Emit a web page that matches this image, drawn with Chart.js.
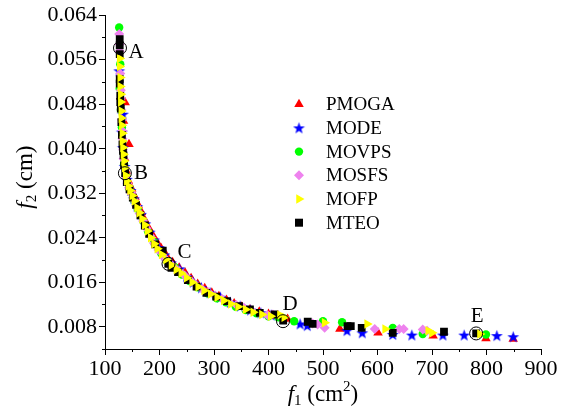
<!DOCTYPE html>
<html>
<head>
<meta charset="utf-8">
<script src="https://cdn.jsdelivr.net/npm/chart.js@4.4.0/dist/chart.umd.min.js"></script>
<style>
  html, body { margin: 0; padding: 0; background: #fff; }
  canvas { display: block; }
</style>
</head>
<body>
<canvas id="chart" width="562" height="409"></canvas>
<script>
// --- data: f1 (cm^2) and f2 (cm) per algorithm ---
const seriesNames = ["PMOGA", "MODE", "MOVPS", "MOSFS", "MOFP", "MTEO"];

const pmogaF1 = [137,134,144,136,139,143,149,155,161,167,173,180,187,195,203,212,224,236,247,258,270,283,296,309,323,337,351,366,383,400,417,435,531,601,702,799,849];
const pmogaF2 = [0.0483,0.0450,0.0408,0.0383,0.0360,0.0342,0.0328,0.0313,0.0299,0.0286,0.0272,0.0258,0.0246,0.0233,0.0221,0.0209,0.0196,0.0186,0.0177,0.0167,0.0157,0.0149,0.0141,0.0135,0.0128,0.0122,0.0116,0.0111,0.0107,0.0103,0.0100,0.0094,0.0076,0.0069,0.0064,0.0059,0.0058];

const modeF1 = [126,133,131,133,136,140,147,153,159,166,174,182,190,199,209,221,237,250,262,277,293,312,330,348,367,386,405,458,471,544,572,628,663,720,759,819,849];
const modeF2 = [0.0540,0.0462,0.0430,0.0402,0.0368,0.0345,0.0325,0.0310,0.0296,0.0282,0.0265,0.0250,0.0236,0.0222,0.0209,0.0195,0.0184,0.0170,0.0160,0.0150,0.0141,0.0133,0.0124,0.0117,0.0110,0.0105,0.0101,0.0085,0.0082,0.0073,0.0069,0.0066,0.0065,0.0065,0.0065,0.0064,0.0062];

const movpsF1 = [126,128,127,129,131,133,135,138,145,152,160,170,179,190,203,214,228,241,255,270,288,305,322,340,358,378,400,418,447,500,535,628,683,799];
const movpsF2 = [0.0618,0.0552,0.0508,0.0470,0.0438,0.0398,0.0372,0.0352,0.0328,0.0309,0.0292,0.0270,0.0251,0.0232,0.0212,0.0198,0.0187,0.0174,0.0162,0.0151,0.0140,0.0131,0.0124,0.0116,0.0110,0.0104,0.0099,0.0097,0.0090,0.0090,0.0088,0.0078,0.0067,0.0066];

const mosfsF1 = [126,127,127,128,129,129,130,131,132,132,133,134,136,138,141,144,148,153,158,164,170,176,183,190,198,207,216,226,236,246,256,266,278,290,302,315,328,341,355,369,385,398,408,481,490,503,595,640,648,683,691];
const mosfsF2 = [0.0606,0.0588,0.0575,0.0535,0.0505,0.0490,0.0470,0.0452,0.0432,0.0418,0.0398,0.0382,0.0366,0.0350,0.0338,0.0330,0.0320,0.0308,0.0296,0.0283,0.0270,0.0257,0.0243,0.0230,0.0218,0.0206,0.0197,0.0188,0.0180,0.0172,0.0164,0.0156,0.0148,0.0142,0.0136,0.0130,0.0124,0.0119,0.0114,0.0109,0.0104,0.0101,0.0102,0.0086,0.0084,0.0078,0.0076,0.0076,0.0076,0.0075,0.0073];

const mofpF1 = [127,127,128,128,129,129,130,130,131,132,132,133,134,135,136,138,140,143,146,150,154,159,163,168,173,178,184,190,196,204,212,222,231,240,250,260,271,282,294,306,318,331,344,358,372,388,404,421,429,503,581,614,693,700,788];
const mofpF2 = [0.0562,0.0548,0.0528,0.0512,0.0498,0.0484,0.0468,0.0455,0.0442,0.0428,0.0414,0.0402,0.0390,0.0378,0.0366,0.0352,0.0342,0.0333,0.0325,0.0316,0.0306,0.0294,0.0285,0.0274,0.0263,0.0252,0.0240,0.0229,0.0220,0.0210,0.0201,0.0191,0.0183,0.0176,0.0168,0.0160,0.0152,0.0145,0.0139,0.0133,0.0127,0.0121,0.0116,0.0111,0.0106,0.0102,0.0099,0.0101,0.0097,0.0087,0.0085,0.0076,0.0073,0.0069,0.0067];

const mteoF1 = [127,127,127,127,127,128,128,129,130,131,132,133,134,135,137,140,145,151,157,165,173,181,192,206,216,222,234,252,268,286,304,324,346,366,384,411,427,472,481,545,551,571,628,722,781];
const mteoF2 = [0.0597,0.0586,0.0570,0.0525,0.0517,0.0495,0.0484,0.0472,0.0448,0.0425,0.0408,0.0396,0.0388,0.0370,0.0356,0.0340,0.0327,0.0312,0.0299,0.0280,0.0262,0.0247,0.0228,0.0217,0.0193,0.0186,0.0178,0.0164,0.0152,0.0141,0.0134,0.0126,0.0117,0.0111,0.0105,0.0102,0.0091,0.0089,0.0085,0.0081,0.0081,0.0078,0.0069,0.0071,0.0068];

// marked solutions A-E
const markNames = ["A", "B", "C", "D", "E"];
const markF1 = [127.5, 136.5, 216.5, 426.6, 781];
const markF2 = [0.0581, 0.0356, 0.0193, 0.0090, 0.0068];

// axis ticks
const xTicks = [100, 200, 300, 400, 500, 600, 700, 800, 900];
const xMinor = [150, 250, 350, 450, 550, 650, 750, 850];
const yTicks = [0.008, 0.016, 0.024, 0.032, 0.040, 0.048, 0.056, 0.064];
const yMinor = [0.004, 0.012, 0.020, 0.028, 0.036, 0.044, 0.052, 0.060];

const serif = "'Liberation Serif', 'Times New Roman', serif";

function toPoints(xs, ys) {
  return xs.map((x, i) => ({ x: x, y: ys[i] }));
}

function makeStar(color) {
  const c = document.createElement('canvas');
  c.width = 13; c.height = 13;
  const g = c.getContext('2d');
  g.fillStyle = color;
  g.beginPath();
  for (let i = 0; i < 10; i++) {
    const r = i % 2 ? 2.5 : 6.2;
    const a = -Math.PI / 2 + i * Math.PI / 5;
    g.lineTo(6.5 + r * Math.cos(a), 7 + r * Math.sin(a));
  }
  g.closePath();
  g.fill();
  return c;
}
const starImg = makeStar('#0000ff');

// style per series (same order as seriesNames); layer = drawing order, higher on top
const styles = [
  { color: '#ff0000', pointStyle: 'triangle', radius: 5.5, rotation: 0, kind: 'triangle', layer: 1 },
  { color: '#0000ff', pointStyle: starImg, radius: 6, rotation: 0, kind: 'star', layer: 2 },
  { color: '#00ff00', pointStyle: 'circle', radius: 4.2, rotation: 0, kind: 'circle', layer: 3 },
  { color: '#ee82ee', pointStyle: 'rectRot', radius: 5, rotation: 0, kind: 'diamond', layer: 4 },
  { color: '#ffff00', pointStyle: 'triangle', radius: 5.5, rotation: 90, kind: 'rtri', layer: 6 },
  { color: '#000000', pointStyle: 'rect', radius: 5.5, rotation: 0, kind: 'square', layer: 5 }
];

const allF1 = [pmogaF1, modeF1, movpsF1, mosfsF1, mofpF1, mteoF1];
const allF2 = [pmogaF2, modeF2, movpsF2, mosfsF2, mofpF2, mteoF2];

const datasets = seriesNames.map((name, i) => ({
  label: name,
  data: toPoints(allF1[i], allF2[i]),
  backgroundColor: styles[i].color,
  borderColor: styles[i].color,
  borderWidth: 0,
  pointStyle: styles[i].pointStyle,
  pointRadius: styles[i].radius,
  pointRotation: styles[i].rotation,
  order: 10 - styles[i].layer
}));

datasets.push({
  label: 'marks',
  data: toPoints(markF1, markF2),
  backgroundColor: 'rgba(0,0,0,0)',
  borderColor: '#000',
  borderWidth: 1,
  pointStyle: 'circle',
  pointRadius: 6.5,
  order: 0
});

function drawMarker(ctx, st, x, y) {
  ctx.save();
  ctx.fillStyle = st.color;
  ctx.beginPath();
  if (st.kind === 'star') {
    ctx.drawImage(starImg, x - starImg.width / 2, y - starImg.height / 2);
  } else if (st.kind === 'circle') {
    ctx.arc(x, y, 4.2, 0, Math.PI * 2);
  } else if (st.kind === 'diamond') {
    ctx.moveTo(x, y - 5); ctx.lineTo(x + 5, y); ctx.lineTo(x, y + 5); ctx.lineTo(x - 5, y);
  } else if (st.kind === 'square') {
    ctx.rect(x - 4, y - 4, 8, 8);
  } else {
    const r = 5.5;
    const rot = st.kind === 'rtri' ? Math.PI / 2 : 0;
    for (let k = 0; k < 3; k++) {
      const a = rot + k * 2 * Math.PI / 3;
      ctx.lineTo(x + Math.sin(a) * r, y - Math.cos(a) * r);
    }
  }
  ctx.closePath();
  ctx.fill();
  ctx.restore();
}

// legend inside the plot
const legendPlugin = {
  id: 'innerLegend',
  afterDraw(chart) {
    const ctx = chart.ctx;
    const x0 = chart.chartArea.left + 194;
    const y0 = chart.chartArea.top + 89;
    ctx.save();
    ctx.font = '19px ' + serif;
    ctx.fillStyle = '#000';
    ctx.textBaseline = 'middle';
    seriesNames.forEach((name, i) => {
      const y = y0 + i * 23.7;
      drawMarker(ctx, styles[i], x0, y);
      ctx.fillText(name, x0 + 27, y + 1);
    });
    ctx.restore();
  }
};

// letters next to the circled solutions
const markLabels = {
  id: 'markLabels',
  afterDatasetsDraw(chart) {
    const ctx = chart.ctx;
    const xs = chart.scales.x, ys = chart.scales.y;
    const offs = [[16, 4], [16, 0], [16, -11], [7, -17], [1, -17]];
    ctx.save();
    ctx.font = '21px ' + serif;
    ctx.fillStyle = '#000';
    ctx.textAlign = 'center';
    ctx.textBaseline = 'middle';
    markNames.forEach((t, i) => {
      const px = xs.getPixelForValue(markF1[i]);
      const py = ys.getPixelForValue(markF2[i]);
      ctx.fillText(t, px + offs[i][0], py + offs[i][1]);
    });
    ctx.restore();
  }
};

const minorTicks = {
  id: 'minorTicks',
  afterDraw(chart) {
    const ctx = chart.ctx;
    const xs = chart.scales.x, ys = chart.scales.y;
    ctx.save();
    ctx.strokeStyle = '#000';
    ctx.lineWidth = 1;
    ctx.beginPath();
    xMinor.forEach(v => {
      const px = Math.round(xs.getPixelForValue(v)) + 0.5;
      ctx.moveTo(px, ys.bottom);
      ctx.lineTo(px, ys.bottom + 3);
    });
    yMinor.forEach(v => {
      const py = Math.round(ys.getPixelForValue(v)) + 0.5;
      ctx.moveTo(xs.left - 3, py);
      ctx.lineTo(xs.left, py);
    });
    ctx.stroke();
    ctx.restore();
  }
};

// axis titles with italic f and sub/superscripts
function drawRich(ctx, parts, x, y) {
  let w = 0;
  parts.forEach(p => { ctx.font = p.font; w += ctx.measureText(p.text).width; });
  let cx = x - w / 2;
  parts.forEach(p => {
    ctx.font = p.font;
    ctx.fillText(p.text, cx, y + (p.dy || 0));
    cx += ctx.measureText(p.text).width;
  });
}

const axisTitles = {
  id: 'axisTitles',
  afterDraw(chart) {
    const ctx = chart.ctx;
    const area = chart.chartArea;
    ctx.save();
    ctx.fillStyle = '#000';
    ctx.textBaseline = 'alphabetic';
    drawRich(ctx, [
      { text: 'f', font: 'italic 23px ' + serif },
      { text: '1', font: '15px ' + serif, dy: 4 },
      { text: ' (cm', font: '23px ' + serif },
      { text: '2', font: '15px ' + serif, dy: -10 },
      { text: ')', font: '23px ' + serif }
    ], (area.left + area.right) / 2, 401);
    ctx.translate(32, (area.top + area.bottom) / 2 - 5);
    ctx.rotate(-Math.PI / 2);
    drawRich(ctx, [
      { text: 'f', font: 'italic 23px ' + serif },
      { text: '2', font: '15px ' + serif, dy: 4 },
      { text: ' (cm)', font: '23px ' + serif }
    ], 0, 0);
    ctx.restore();
  }
};

new Chart(document.getElementById('chart'), {
  type: 'scatter',
  data: { datasets: datasets },
  plugins: [minorTicks, markLabels, legendPlugin, axisTitles],
  options: {
    responsive: false,
    animation: false,
    devicePixelRatio: 1,
    layout: { padding: { left: 0, right: 21, top: 15, bottom: 0 } },
    plugins: { legend: { display: false }, tooltip: { enabled: false } },
    scales: {
      x: {
        type: 'linear',
        min: 100,
        max: 900,
        afterBuildTicks: s => { s.ticks = xTicks.map(v => ({ value: v })); },
        afterFit: s => { s.height = 60; },
        ticks: { color: '#000', font: { family: serif, size: 22 }, padding: 1, autoSkip: false, maxRotation: 0 },
        grid: { drawOnChartArea: false, drawTicks: true, tickLength: 6, color: '#000' },
        border: { display: true, color: '#000', width: 1 }
      },
      y: {
        type: 'linear',
        min: 0.004,
        max: 0.064,
        afterBuildTicks: s => { s.ticks = yTicks.map(v => ({ value: v })); },
        afterFit: s => { s.width = 105; },
        ticks: { color: '#000', font: { family: serif, size: 22 }, padding: 2, callback: v => v.toFixed(3) },
        grid: { drawOnChartArea: false, drawTicks: true, tickLength: 6, color: '#000' },
        border: { display: true, color: '#000', width: 1 }
      }
    }
  }
});
</script>
</body>
</html>
